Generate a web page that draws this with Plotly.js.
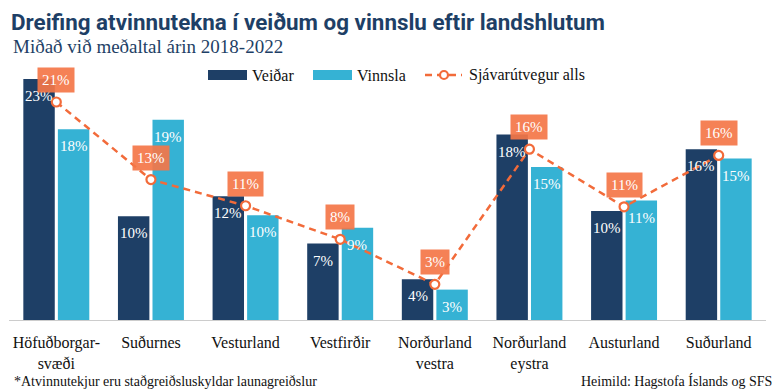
<!DOCTYPE html>
<html>
<head>
<meta charset="utf-8">
<script src="https://cdn.plot.ly/plotly-3.0.1.min.js"></script>
<style>html,body{margin:0;padding:0;background:#fff;}#chart{width:779px;height:390px;}</style>
</head>
<body>
<div id="chart"></div>
<script>
const categories = ["Höfuðborgar-<br>svæði", "Suðurnes", "Vesturland", "Vestfirðir", "Norðurland<br>vestra", "Norðurland<br>eystra", "Austurland", "Suðurland"];
const veidar = [23.0, 9.9, 11.8, 7.3, 3.9, 17.7, 10.4, 16.3];
const vinnsla = [18.2, 19.1, 10.0, 8.8, 2.9, 14.6, 11.4, 15.4];
const samtals = [20.8, 13.4, 10.9, 7.7, 3.4, 16.3, 10.8, 15.7];
const seriesNames = ["Veiðar", "Vinnsla", "Sjávarútvegur alls"];

const W = 779, H = 390, ML = 9, MR = 13, MT = 60, MB = 70;
const PW = W - ML - MR, PH = H - MT - MB;
const px = x => (x - ML) / PW;
const py = y => (H - MB - y) / PH;

const NAVY = "#1e3f66", CYAN = "#35b2d4", ORANGE = "#f26b3a", BOX = "rgba(244,118,72,0.92)";
const SERIF = "Liberation Serif, serif";
const pct = v => Math.round(v) + "%";

const BARGAP = 0.27;
const OFF = (1 - BARGAP) / 4;   // centre offset of each bar within its group
const x = categories.map((c, i) => i);

const traces = [
  {type: "bar", name: seriesNames[0], x: x, y: veidar, marker: {color: NAVY}, hoverinfo: "none"},
  {type: "bar", name: seriesNames[1], x: x, y: vinnsla, marker: {color: CYAN}, hoverinfo: "none"},
  {type: "scatter", mode: "lines+markers", name: seriesNames[2], x: x, y: samtals,
   line: {color: ORANGE, width: 2.5, dash: "7px,5px"},
   marker: {symbol: "circle", size: 9, color: "#fff", line: {color: ORANGE, width: 2.2}},
   hoverinfo: "none", cliponaxis: false}
];

const annotations = [];
[[veidar, -OFF], [vinnsla, OFF]].forEach(([arr, off]) => {
  arr.forEach((v, i) => annotations.push({
    x: i + off, y: v, xref: "x", yref: "y", text: pct(v), showarrow: false,
    yanchor: "top", yshift: -7,
    font: {family: SERIF, size: 15, color: "#fff"}
  }));
});
samtals.forEach((v, i) => annotations.push({
  x: i, y: v, xref: "x", yref: "y", text: pct(v), showarrow: false,
  yshift: 22, bgcolor: BOX, borderpad: 4,
  font: {family: SERIF, size: 15, color: "#fff"}
}));

annotations.push({
  xref: "paper", yref: "paper", x: px(11), y: py(47), xanchor: "left", yanchor: "middle",
  text: "Miðað við meðaltal árin 2018-2022", showarrow: false,
  font: {family: SERIF, size: 19, color: NAVY}
});
annotations.push({
  xref: "paper", yref: "paper", x: px(12), y: py(381), xanchor: "left", yanchor: "middle",
  text: "*Atvinnutekjur eru staðgreiðsluskyldar launagreiðslur", showarrow: false,
  font: {family: SERIF, size: 14, color: "#111"}
});
annotations.push({
  xref: "paper", yref: "paper", x: px(774), y: py(381), xanchor: "right", yanchor: "middle",
  text: "Heimild: Hagstofa Íslands og SFS", showarrow: false,
  font: {family: SERIF, size: 14, color: "#111"}
});
[[250, seriesNames[0]], [355, seriesNames[1]], [467, seriesNames[2]]].forEach(([lx, t]) => {
  annotations.push({
    xref: "paper", yref: "paper", x: px(lx), y: py(75), xanchor: "left", yanchor: "middle",
    text: t, showarrow: false, font: {family: SERIF, size: 16, color: "#111"}
  });
});

const shapes = [
  {type: "rect", xref: "paper", yref: "paper", x0: px(208), x1: px(247), y0: py(70), y1: py(80), fillcolor: NAVY, line: {width: 0}},
  {type: "rect", xref: "paper", yref: "paper", x0: px(313), x1: px(352), y0: py(70), y1: py(80), fillcolor: CYAN, line: {width: 0}},
  {type: "line", xref: "paper", yref: "paper", x0: px(425), x1: px(462), y0: py(75), y1: py(75), line: {color: ORANGE, width: 2.5, dash: "7px,5px"}},
  {type: "circle", xref: "paper", yref: "paper", x0: px(440), x1: px(448), y0: py(71), y1: py(79), fillcolor: "#fff", line: {color: ORANGE, width: 2.2}}
];

const layout = {
  width: W, height: H,
  margin: {l: ML, r: MR, t: MT, b: MB},
  paper_bgcolor: "#fff", plot_bgcolor: "#fff",
  showlegend: false,
  barmode: "group", bargap: BARGAP, bargroupgap: 0.09,
  title: {text: "<b>Dreifing atvinnutekna í veiðum og vinnslu eftir landshlutum</b>",
          x: 11 / W, xanchor: "left", xref: "container", y: 1 - 22 / H, yanchor: "middle", yref: "container",
          font: {family: "Roboto", size: 22.4, color: NAVY}},
  xaxis: {range: [-0.5, 7.5], tickvals: x, ticktext: categories, showgrid: false, zeroline: false,
          showline: true, linecolor: "#cccccc", linewidth: 1, ticks: "", ticklabelstandoff: 8,
          tickfont: {family: SERIF, size: 16, color: "#111"}, fixedrange: true},
  yaxis: {range: [0, PH / 10.48], visible: false, showgrid: false, zeroline: false, fixedrange: true},
  annotations: annotations,
  shapes: shapes,
  font: {family: SERIF}
};

Plotly.newPlot("chart", traces, layout, {displayModeBar: false, staticPlot: true});
</script>
</body>
</html>
